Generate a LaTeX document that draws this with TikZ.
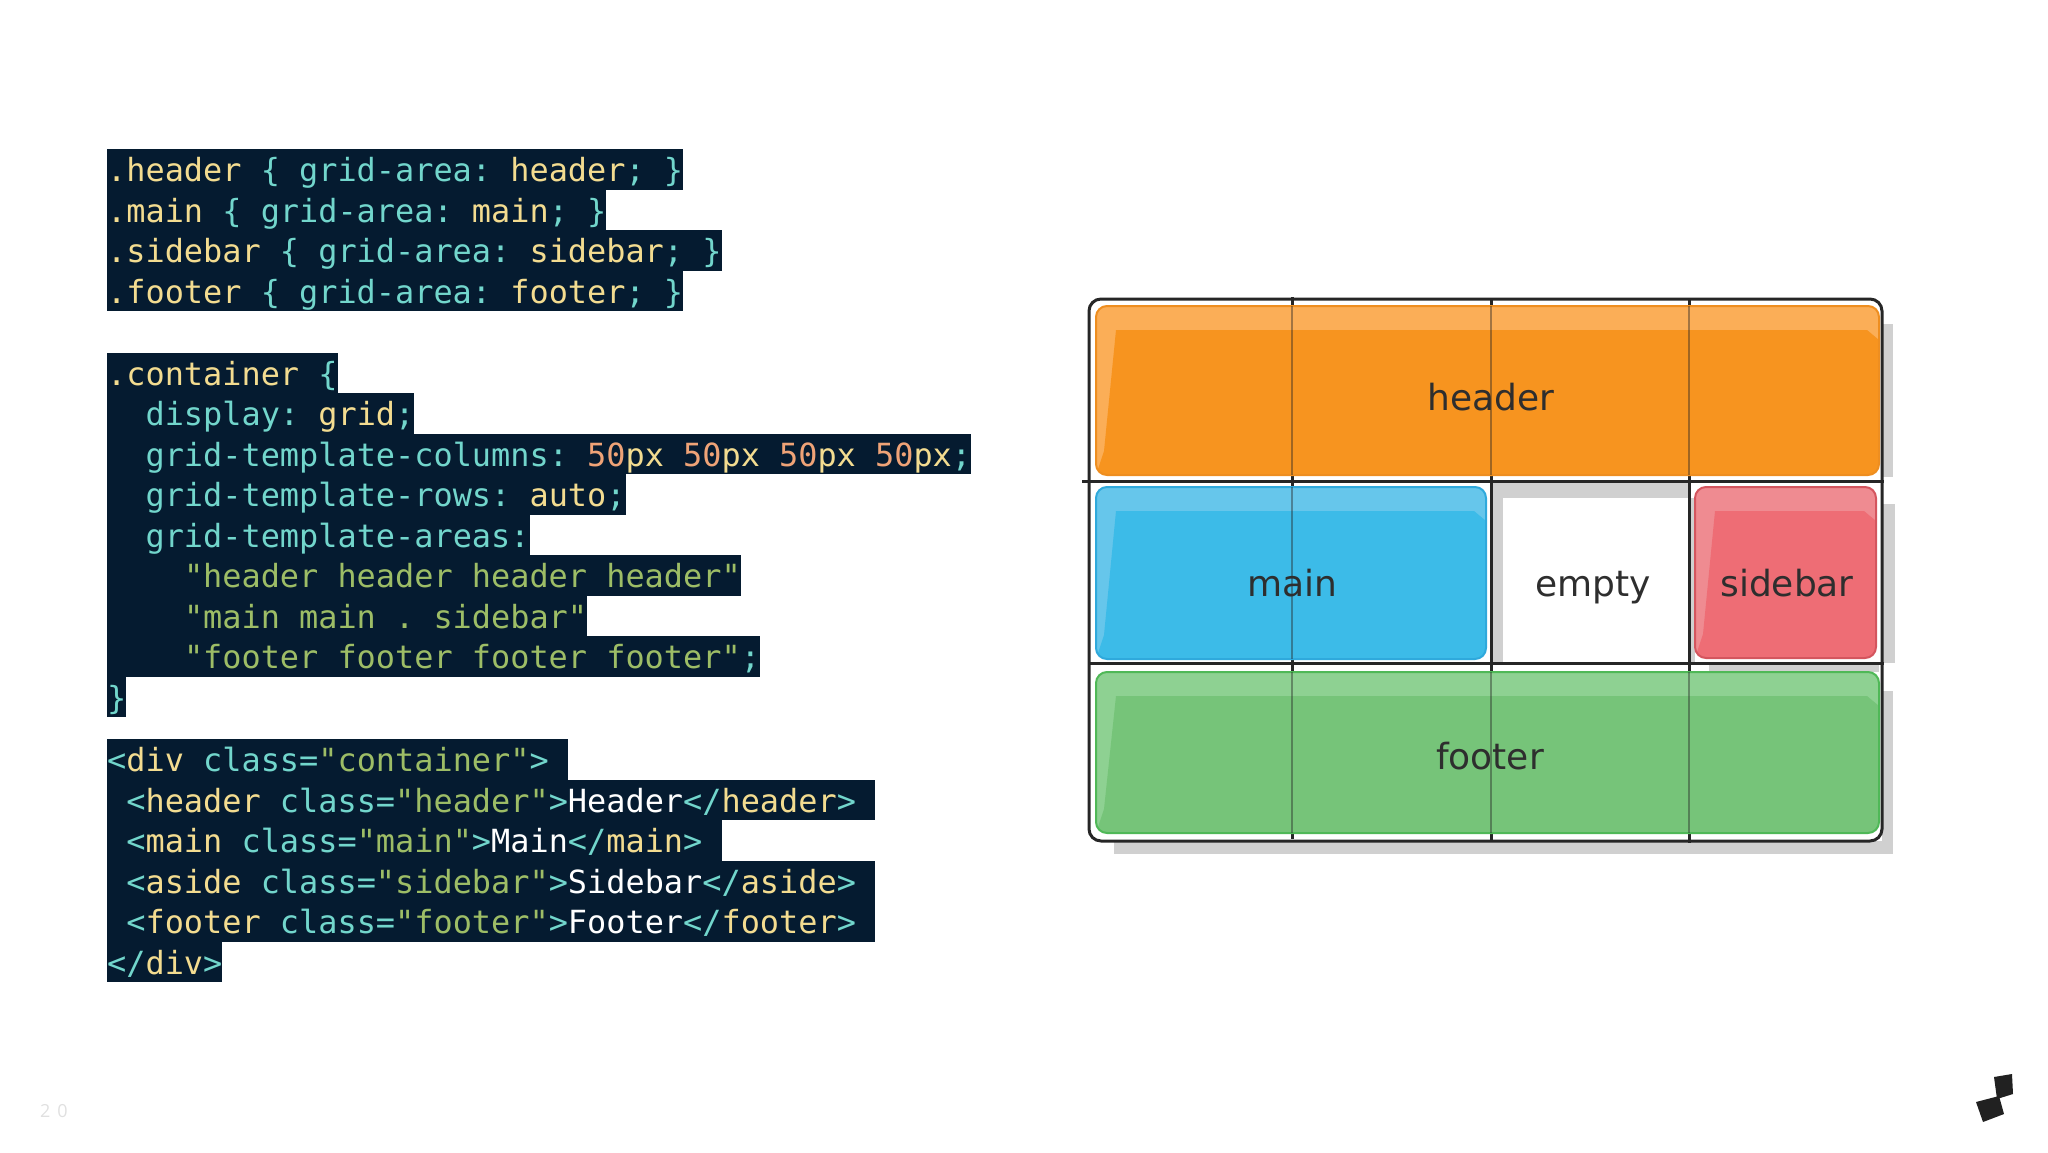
\documentclass[tikz,border=0pt]{standalone}
\usepackage{fontspec}
\setmainfont{DejaVu Sans}
\newfontfamily\codefont[HyphenChar=None]{DejaVu Sans Mono}
\newfontfamily\pagefont{Open Sans}
\definecolor{codebg}{HTML}{051B30}
\definecolor{codesel}{HTML}{F3DC90}
\definecolor{codeprop}{HTML}{72D6CC}
\definecolor{codenum}{HTML}{EFA377}
\definecolor{codestr}{HTML}{9DBD66}
\definecolor{shadowgray}{HTML}{D0D0D0}
\newcommand{\csel}[1]{\textcolor{codesel}{#1}}
\newcommand{\cstr}[1]{\textcolor{codestr}{#1}}
\newcommand{\cnum}[1]{\textcolor{codenum}{#1}}
\newcommand{\cwht}[1]{\textcolor{white}{#1}}
\newcommand{\ind}[1]{\hspace*{#1\dimexpr19.2pt\relax}}
\tikzset{
  coderow/.style={fill=codebg, text=codeprop, anchor=north west, inner sep=0pt,
    text width=#1*19.2pt, text height=32.5pt, text depth=8pt,
    font=\fontsize{31.89}{36}\codefont,
    execute at begin node={\spaceskip=19.19pt\relax\frenchspacing}},
  areabox/.style={rounded corners=11pt, draw=#1, line width=2pt},
  gridline/.style={line width=3pt, color=black!85},
  arealabel/.style={inner sep=0pt, anchor=base, text=black!82, font=\fontsize{36}{40}\selectfont},
}
\begin{document}
\begin{tikzpicture}[x=1pt,y=-1pt]
  \useasboundingbox (0,0) rectangle (2048,1152);
  % css rules
  \foreach \n/\txt [count=\i] in {
    30/{\csel{.header} \{ grid-area: \csel{header}; \}},
    26/{\csel{.main} \{ grid-area: \csel{main}; \}},
    32/{\csel{.sidebar} \{ grid-area: \csel{sidebar}; \}},
    30/{\csel{.footer} \{ grid-area: \csel{footer}; \}}}
    \node[coderow=\n] (rule\i) at (107,{149+40.5*(\i-1)}) {\txt};
  \foreach \n/\txt [count=\i] in {
    12/{\csel{.container} \{},
    16/{\ind{2}display: \csel{grid};},
    45/{\ind{2}grid-template-columns: \cnum{50}\csel{px} \cnum{50}\csel{px} \cnum{50}\csel{px} \cnum{50}\csel{px};},
    27/{\ind{2}grid-template-rows: \csel{auto};},
    22/{\ind{2}grid-template-areas:},
    33/{\ind{4}\cstr{"header header header header"}},
    25/{\ind{4}\cstr{"main main . sidebar"}},
    34/{\ind{4}\cstr{"footer footer footer footer"};},
    1/{\}}}
    \node[coderow=\n] (cont\i) at (107,{352.6+40.5*(\i-1)}) {\txt};
  % html
  \foreach \n/\txt [count=\i] in {
    24/{<\csel{div} class=\cstr{"container"}>},
    40/{\ind{1}<\csel{header} class=\cstr{"header"}>\cwht{Header}</\csel{header}>},
    32/{\ind{1}<\csel{main} class=\cstr{"main"}>\cwht{Main}</\csel{main}>},
    40/{\ind{1}<\csel{aside} class=\cstr{"sidebar"}>\cwht{Sidebar}</\csel{aside}>},
    40/{\ind{1}<\csel{footer} class=\cstr{"footer"}>\cwht{Footer}</\csel{footer}>},
    6/{</\csel{div}>}}
    \node[coderow=\n] (html\i) at (107,{739.2+40.5*(\i-1)}) {\txt};
  % shadows behind the grid
  \fill[shadowgray] (1882,324) rectangle (1893,477);
  \fill[shadowgray] (1882,504) rectangle (1895,663);
  \fill[shadowgray] (1882,691) rectangle (1893,854);
  \fill[shadowgray] (1114,841) rectangle (1893,854);
  \fill[shadowgray] (1491,483) rectangle (1689,498);
  \fill[shadowgray] (1491,498) rectangle (1503,663);
  \fill[shadowgray] (1689,498) rectangle (1695,663);
  \fill[shadowgray] (1709,663) rectangle (1879,672);
  % grid lines
  \draw[gridline, rounded corners=12pt] (1089,299) rectangle (1882,841);
  \draw[gridline] (1082,481) -- (1884,481);
  \draw[gridline] (1089,663) -- (1884,663);
  \foreach \gx/\gtop/\gbot in {1292/297/839, 1491/299/842, 1689/299/843}
    \draw[gridline] (\gx,\gtop) -- (\gx,\gbot);
  % colored areas, light rim first
  \foreach \xa/\ya/\xb/\yb/\rim/\body/\edge in {
    1096/306/1879/475/FBAE57/F7941F/EE8E20,
    1096/487/1486/659/66C6EB/3CBBE8/2FA9DC,
    1695/487/1876/658/EF8B91/EE6D75/D4555E,
    1096/672/1879/833/8ED192/76C479/4FB857}{
    \definecolor{rimcol}{HTML}{\rim}
    \definecolor{bodycol}{HTML}{\body}
    \definecolor{edgecol}{HTML}{\edge}
    \begin{scope}
      \clip[rounded corners=11pt] (\xa,\ya) rectangle (\xb,\yb);
      \fill[rimcol] (\xa,\ya) rectangle (\xb,\yb);
      \fill[bodycol] ({\xa+20},{\ya+24}) -- ({\xb-12},{\ya+24}) -- (\xb,{\ya+34}) -- (\xb,\yb) -- (\xa,\yb) -- ({\xa+8},{\yb-24}) -- cycle;
    \end{scope}
    \draw[areabox=edgecol] (\xa,\ya) rectangle (\xb,\yb);
  }
  % grid lines show through the areas
  \foreach \gx/\gtop/\gbot in {1292/306/475, 1491/306/475, 1689/306/475, 1292/487/659, 1292/672/833, 1491/672/833, 1689/672/833}
    \draw[gridline, opacity=.42, line width=2.5pt] (\gx,\gtop) -- (\gx,\gbot);
  \node[arealabel] (headerlabel) at (1491,410) {header};
  \node[arealabel] (mainlabel) at (1292,596) {main};
  \node[arealabel] (emptylabel) at (1593,596) {empty};
  \node[arealabel] (sidebarlabel) at (1787,596) {sidebar};
  \node[arealabel] (footerlabel) at (1490,769) {footer};
  % page number and logo
  \node[inner sep=0pt, text=black!12, font=\fontsize{18}{20}\pagefont] (pagenum) at (54,1111) {2\hspace{7pt}0};
  \fill[black!87] (1994,1077) -- (2012,1074) -- (2013,1094) -- (1997,1099) -- cycle;
  \fill[black!87] (1976,1102) -- (1999,1096) -- (2004,1114) -- (1983,1122) -- cycle;
\end{tikzpicture}
\end{document}
